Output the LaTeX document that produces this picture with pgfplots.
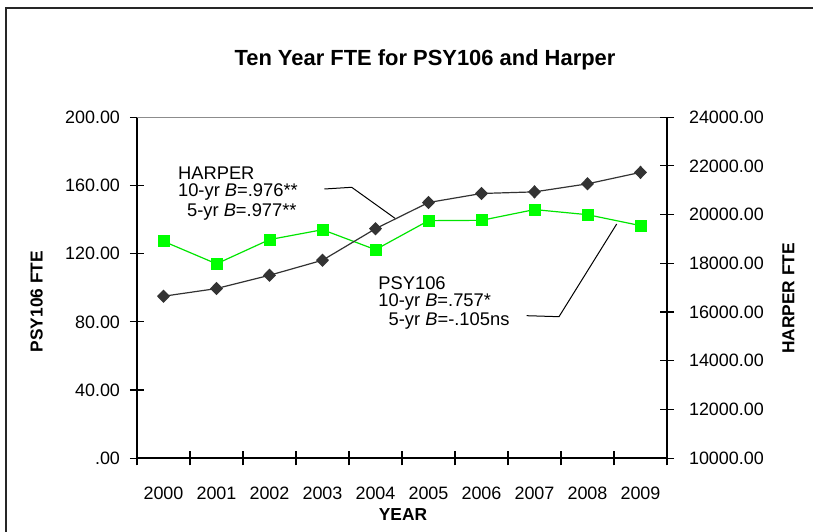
\documentclass[border=0pt]{standalone}
\usepackage{pgfplots}
\pgfplotsset{compat=1.18}
\usepackage{fontspec}
\setmainfont{Liberation Sans}
\definecolor{psygreen}{RGB}{0,255,0}
\definecolor{harp}{RGB}{51,51,51}
\newcommand{\px}[2]{({#1*0.5bp},{-#2*0.5bp})}

\pgfplotstableread{
x psy
0 127.2
1 114.0
2 128.2
3 134.0
4 122.3
5 139.3
6 139.5
7 145.8
8 142.8
9 136.4
}\psytable

\pgfplotstableread{
x harper
0 16650
1 16965
2 17510
3 18127
4 19420
5 20495
6 20866
7 20932
8 21262
9 21732
}\harpertable

\begin{document}
\begin{tikzpicture}
\useasboundingbox (0,0) rectangle (406.5bp,-266bp);
\draw[line width=1.1bp, black!85] (3bp,-300bp) -- (3bp,-4bp) -- (450bp,-4bp);

\node[font=\bfseries\fontsize{11}{13}\selectfont] at \px{425}{60} {Ten Year FTE for PSY106 and Harper};

\pgfplotsset{
  common/.style={
    at={(68.5bp,-229.15bp)}, anchor=south west, scale only axis,
    width=265bp, height=170.6bp,
    xmin=-0.5, xmax=9.5,
    tick align=center,
    major tick length=7bp,
    minor tick length=7bp,
    tick style={black, line width=0.6bp},
    tick label style={font=\fontsize{9}{10}\selectfont},
    axis line style={black, line width=0.9bp},
    scaled y ticks=false,
    clip=false,
  }
}

\begin{axis}[common,
  ymin=0, ymax=200,
  axis x line*=bottom, axis y line*=left,
  xtick={0,...,9},
  xticklabels={2000,2001,2002,2003,2004,2005,2006,2007,2008,2009},
  major x tick style={draw=none},
  minor xtick={-0.5,0.5,...,9.5},
  xticklabel style={yshift=-7.5bp},
  ytick={0,40,...,200},
  yticklabels={.00,40.00,80.00,120.00,160.00,200.00},
  yticklabel style={xshift=-1.5bp},
]
\draw[black!45, line width=0.6bp] (rel axis cs:0,1) -- (rel axis cs:1,1);
\addplot[psygreen!90!black, line width=0.6bp, mark=square*, mark size=2.7bp,
  mark options={fill=psygreen, draw=psygreen}] table[x=x,y=psy] {\psytable};
\end{axis}

\begin{axis}[common,
  ymin=10000, ymax=24000,
  axis x line=none, axis y line*=right,
  ytick={10000,12000,...,24000},
  yticklabels={10000.00,12000.00,14000.00,16000.00,18000.00,20000.00,22000.00,24000.00},
  yticklabel style={xshift=4bp},
]
\addplot[harp, line width=0.6bp, mark=diamond*, mark size=2.9bp,
  mark options={fill=harp, draw=harp, xscale=1.3}] table[x=x,y=harper] {\harpertable};
\end{axis}

% axis titles
\node[font=\bfseries\fontsize{8.7}{10}\selectfont] at \px{403}{515} {YEAR};
\node[font=\bfseries\fontsize{8.7}{10}\selectfont, rotate=90] at \px{36.7}{301.7} {PSY106 FTE};
\node[font=\bfseries\fontsize{8.7}{10}\selectfont, rotate=90] at \px{788.3}{298.3} {HARPER FTE};

% annotations
\begin{scope}[every node/.style={font=\fontsize{9.2}{11}\selectfont, inner sep=0pt}]
\node[anchor=west] at \px{177.7}{173.3} {HARPER};
\node[anchor=west] at \px{177.7}{192.3} {10-yr \textit{B}=.976**};
\node[anchor=west] at \px{186.7}{211.7} {5-yr \textit{B}=.977**};
\node[anchor=west] at \px{378}{282.7} {PSY106};
\node[anchor=west] at \px{378}{301.7} {10-yr \textit{B}=.757*};
\node[anchor=west] at \px{388.3}{320.7} {5-yr \textit{B}=-.105ns};
\end{scope}
\draw[black, line width=0.5bp] \px{324.3}{189} -- \px{351.7}{187.3} -- \px{395}{218.3};
\draw[black, line width=0.5bp] \px{526.7}{315.7} -- \px{559}{316.7} -- \px{616.7}{224};
\end{tikzpicture}
\end{document}
